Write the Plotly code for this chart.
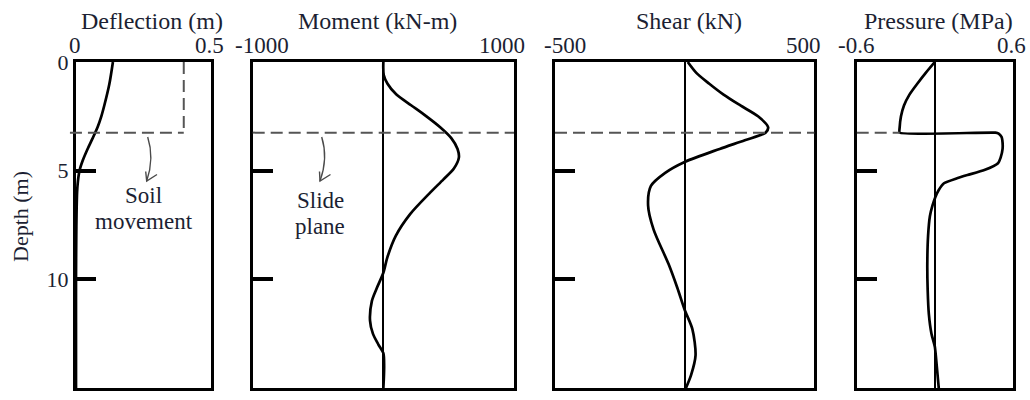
import plotly.graph_objects as go

# ---------------------------------------------------------------- data
DEPTH_MAX = 15.0          # pile length (m)
SLIDE_DEPTH = 3.25        # depth of the slide plane (m)
SOIL_MOVEMENT = 0.4       # uniform soil movement above the slide plane (m)

DEFL_DEPTH = [0, 1, 2, 2.5, 3, 3.5, 4, 4.5, 5, 5.5, 6, 7, 8, 10, 12, 15]
DEFLECTION = [0.137, 0.124, 0.105, 0.094, 0.080, 0.062, 0.043, 0.026,
              0.013, 0.007, 0.004, 0.002, 0.001, 0.0, 0.0, 0.0]

MOMENT_DEPTH = [0, 0.6, 1.0, 1.5, 2.0, 2.5, 3.0, 3.5, 4.0, 4.4, 4.9, 5.4,
                6.0, 7.0, 8.0, 9.0, 9.7, 10.4, 11.0, 11.9, 12.5, 13.0,
                13.4, 14.0, 14.5, 15]
MOMENT = [0, 3, 32, 100, 215, 330, 435, 520, 568, 578, 540, 460,
          360, 205, 95, 30, 0, -50, -88, -102, -80, -38,
          0, 6, 4, 0]

SHEAR_DEPTH = [0, 0.5, 1.0, 1.5, 2.0, 2.5, 3.0, 3.25, 3.6, 4.0, 4.6, 5.1,
               5.7, 6.6, 7.7, 9.3, 10.4, 11.4, 12.3, 13.5, 14.4, 15]
SHEAR = [12, 45, 95, 150, 215, 283, 322, 312, 232, 135, 0, -75,
         -130, -141, -120, -62, -28, 0, 30, 42, 25, 5]

PRESSURE_DEPTH = [0, 0.5, 1.0, 1.5, 2.0, 2.5, 3.0, 3.25, 3.25, 3.3, 3.45,
                  3.6, 4.0, 4.4, 4.66, 4.97, 5.2, 5.35, 5.58, 5.89, 6.2,
                  6.6, 7.1, 8.0, 9.3, 10.5, 11.6, 12.5, 13.1, 14.0, 15]
PRESSURE = [0, -0.07, -0.135, -0.195, -0.237, -0.26, -0.27, -0.27, 0.465,
            0.49, 0.512, 0.518, 0.52, 0.505, 0.485, 0.38, 0.25, 0.17,
            0.07, 0.03, 0.005, -0.018, -0.038, -0.052, -0.058, -0.055,
            -0.046, -0.026, 0.0, 0.015, 0.03]

AXIS_TITLES = ["Deflection (m)", "Moment (kN-m)", "Shear (kN)", "Pressure (MPa)"]
X_RANGES = [[0, 0.5], [-1000, 1000], [-500, 500], [-0.6, 0.6]]
X_TICKTEXT = [["0", "0.5"], ["-1000", "1000"], ["-500", "500"], ["-0.6", "0.6"]]
DEPTH_TICKS = [0, 5, 10, 15]
DEPTH_TITLE = "Depth (m)"

# ---------------------------------------------------------------- layout helpers
W, H = 1030, 400
M_L, M_R, M_T, M_B = 76, 17, 62, 12
PW, PH = W - M_L - M_R, H - M_T - M_B

# panel edges in pixels
PANEL_PX = [(76, 210.7), (252.7, 514), (555, 814.3), (856.7, 1013)]


def px(xp, yp):
    """pixel position -> paper coordinates"""
    return (xp - M_L) / PW, (H - M_B - yp) / PH


FONT = "Liberation Serif"
TEXT_COLOR = "#1c1f33"
DASH_COLOR = "#555555"
DASH = dict(color=DASH_COLOR, width=2, dash="12px,6px")

series = [(DEFLECTION, DEFL_DEPTH, 0.8), (MOMENT, MOMENT_DEPTH, 0.8),
          (SHEAR, SHEAR_DEPTH, 0.8), (PRESSURE, PRESSURE_DEPTH, 0.5)]

fig = go.Figure()

# soil movement profile (dashed, vertical part) in the deflection panel
fig.add_trace(go.Scatter(
    x=[SOIL_MOVEMENT, SOIL_MOVEMENT], y=[0, SLIDE_DEPTH],
    mode="lines", line=DASH, xaxis="x", yaxis="y", hoverinfo="skip"))

for i, (xs, ys, smooth) in enumerate(series):
    sfx = "" if i == 0 else str(i + 1)
    fig.add_trace(go.Scatter(
        x=xs, y=ys, mode="lines",
        line=dict(color="black", width=2.7, shape="spline", smoothing=smooth),
        xaxis="x" + sfx, yaxis="y" + sfx))

layout = dict(
    width=W, height=H,
    margin=dict(l=M_L, r=M_R, t=M_T, b=M_B),
    paper_bgcolor="white", plot_bgcolor="white",
    showlegend=False,
    font=dict(family=FONT, size=22, color=TEXT_COLOR),
)

for i in range(4):
    sfx = "" if i == 0 else str(i + 1)
    x0, x1 = PANEL_PX[i]
    dom = [max(0.0, (x0 - M_L) / PW), min(1.0, (x1 - M_L) / PW)]
    layout["xaxis" + sfx] = dict(
        domain=dom, range=X_RANGES[i], side="top",
        anchor="y" + sfx,
        showline=True, mirror=True, linewidth=3, linecolor="black",
        showticklabels=False, ticks="",
        showgrid=False, zeroline=(i != 0), zerolinecolor="black",
        zerolinewidth=2, automargin=False, fixedrange=True,
    )
    layout["yaxis" + sfx] = dict(
        domain=[0, 1], range=[DEPTH_MAX, 0], anchor="x" + sfx,
        showline=True, mirror=True, linewidth=3, linecolor="black",
        tickvals=DEPTH_TICKS, ticks="inside", ticklen=20, tickwidth=4,
        tickcolor="black", showticklabels=(i == 0),
        tickfont=dict(family=FONT, size=22, color=TEXT_COLOR),
        showgrid=False, zeroline=False, automargin=False, fixedrange=True,
    )

fig.update_layout(**layout)

slide_frac = 1 - SLIDE_DEPTH / DEPTH_MAX   # slide plane in axis-domain units

# slide plane: in the deflection panel it starts just outside the frame and
# meets the soil movement profile; it spans the moment and shear panels, and
# runs up to the pressure profile in the pressure panel
shapes = [dict(type="line", xref="x domain", yref="y domain",
               x0=-0.045, x1=SOIL_MOVEMENT / X_RANGES[0][1],
               y0=slide_frac, y1=slide_frac, line=DASH)]
for sfx in ("2", "3"):
    shapes.append(dict(type="line", xref=f"x{sfx} domain", yref=f"y{sfx}",
                       x0=0, x1=1, y0=SLIDE_DEPTH, y1=SLIDE_DEPTH, line=DASH))
p_at_slide = PRESSURE[PRESSURE_DEPTH.index(SLIDE_DEPTH)]
shapes.append(dict(type="line", xref="x4", yref="y4",
                   x0=X_RANGES[3][0], x1=p_at_slide,
                   y0=SLIDE_DEPTH, y1=SLIDE_DEPTH, line=DASH))


# curved call-out arrows
def arrow(start, ctrl, tip, wing_a, wing_b):
    pts = [px(*p) for p in (start, ctrl, tip, wing_a, wing_b)]
    (sx, sy), (cx, cy), (tx, ty), (ax, ay), (bx, by) = pts
    body = f"M {sx},{sy} Q {cx},{cy} {tx},{ty}"
    head = f"M {ax},{ay} L {tx},{ty} L {bx},{by}"
    style = dict(color="#4a4a4a", width=1.4)
    return [dict(type="path", xref="paper", yref="paper", path=body, line=style),
            dict(type="path", xref="paper", yref="paper", path=head, line=style)]


shapes += arrow((147.7, 137), (154.5, 158), (146.7, 181), (145.7, 171.5), (157, 174.5))
shapes += arrow((321.7, 137), (328.3, 158), (320, 181), (319.5, 171.5), (330.5, 174.5))
fig.update_layout(shapes=shapes)

# titles, range labels and notes
annotations = []


def note(text, xp, yp, size=22, angle=0):
    ax_, ay_ = px(xp, yp)
    annotations.append(dict(text=text, x=ax_, y=ay_, xref="paper", yref="paper",
                            showarrow=False, xanchor="center", yanchor="middle",
                            textangle=angle,
                            font=dict(family=FONT, size=size, color=TEXT_COLOR)))


title_pos = [152, 377, 689, 938]
for t, xp in zip(AXIS_TITLES, title_pos):
    note(t, xp, 21, size=24)

range_label_pos = [(75, 209), (262, 502), (565, 803), (856, 1011)]
for labels, xs in zip(X_TICKTEXT, range_label_pos):
    for lab, xp in zip(labels, xs):
        note(lab, xp, 45, size=23)

note(DEPTH_TITLE, 20, 217, size=22, angle=-90)

for txt, (xp, yp) in [("Soil", (143.5, 195)), ("movement", (143.5, 221)),
                      ("Slide", (320, 200)), ("plane", (320, 226))]:
    note(txt, xp, yp, size=23)

fig.update_layout(annotations=annotations)

fig.write_html("out.html")
